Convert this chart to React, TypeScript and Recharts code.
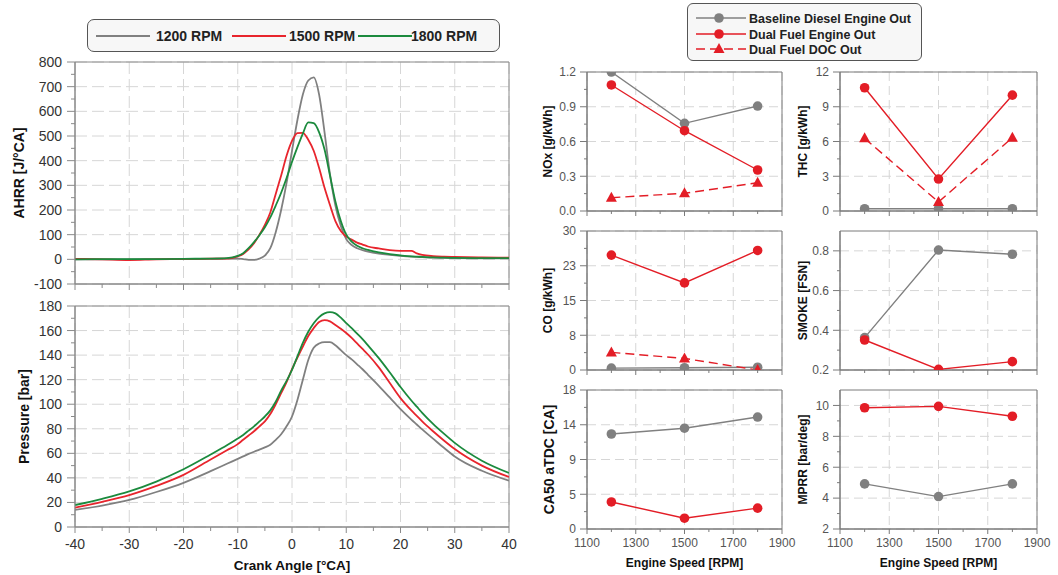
import React from "react";
import { LineChart, Line, XAxis, YAxis, CartesianGrid, ReferenceArea, Label } from "recharts";

const FONT = '"Liberation Sans", Arial, Helvetica, sans-serif';

// ---- combustion traces ----
const crankAngle = [-40, -35, -30, -25, -20, -15, -12, -10, -9, -8, -7, -6, -5, -4, -3, -2, -1, 0, 1, 2, 3, 4, 5, 6, 7, 8, 9, 10, 11, 12, 13, 14, 16, 18, 20, 22, 23, 24, 26, 28, 30, 35, 40];
const ahrr1200 = [0, 0, 0, 1, 1, 2, 3, 3, 1, -2, -2, 3, 15, 45, 110, 200, 310, 440, 565, 668, 725, 738, 668, 515, 345, 218, 135, 82, 58, 45, 37, 31, 23, 18, 14, 11, 10, 9, 7, 6, 5, 4, 4];
const ahrr1500 = [2, 0, -3, 0, 1, 3, 3, 12, 22, 40, 65, 100, 140, 190, 265, 340, 420, 480, 512, 513, 485, 440, 370, 290, 220, 155, 115, 92, 80, 68, 60, 52, 44, 37, 34, 34, 24, 18, 13, 11, 10, 8, 7];
const ahrr1800 = [0, 1, 1, 1, 2, 3, 5, 14, 25, 45, 70, 98, 130, 170, 218, 270, 330, 395, 455, 510, 555, 552, 515, 445, 340, 235, 155, 100, 72, 55, 45, 38, 28, 21, 16, 12, 11, 10, 8, 7, 6, 5, 5];
const pres1200 = [14, 17.5, 22, 28.5, 36, 45.5, 51.5, 55.5, 57.5, 59.5, 61.3, 63, 64.8, 67, 71, 75.5, 82, 90, 103.5, 120, 136, 146, 149.5, 150.5, 150.5, 148, 144, 140, 136.5, 132.5, 128.5, 124, 115, 105.5, 96, 87.5, 83.5, 79.5, 72, 64.5, 57.5, 45.8, 37.7];
const pres1500 = [15.7, 20.5, 26, 33.5, 42.5, 55, 62.5, 67.5, 71, 74.5, 78, 82, 86, 92, 100, 109, 118, 128.5, 138, 147, 155.5, 162, 167, 168.5, 167.5, 164.5, 161.5, 158, 154, 149.5, 145, 140.5, 130, 117.5, 105, 95, 90.5, 86, 78, 70.5, 63.5, 50, 40.7];
const pres1800 = [17.9, 23, 29, 37, 47, 59, 66.5, 72, 75, 78.5, 82, 86, 90, 95, 102, 111, 119, 128, 139, 150, 159, 166, 171, 174, 175, 174, 170.5, 166, 162, 157.5, 153, 148, 137.5, 126, 114, 103, 98, 93, 84, 76, 68.5, 54, 44];

const rpmNames = ["1200 RPM", "1500 RPM", "1800 RPM"];
const rpmColors = ["#808080", "#e8252d", "#1b8a3d"];

// ---- emissions / combustion metrics vs engine speed ----
const engineSpeed = [1200, 1500, 1800];
const noxBase = [1.2, 0.757, 0.906];
const noxDual = [1.088, 0.693, 0.354];
const noxDoc = [0.115, 0.153, 0.244];
const thcBase = [0.2, 0.2, 0.2];
const thcDual = [10.64, 2.76, 10.0];
const thcDoc = [6.27, 0.78, 6.33];
const coBase = [0.4, 0.5, 0.6];
const coDual = [24.8, 18.8, 25.8];
const coDoc = [3.8, 2.5, 0];
const smokeBase = [0.363, 0.804, 0.783];
const smokeDual = [0.351, 0.203, 0.242];
const ca50Base = [12.3, 13.05, 14.5];
const ca50Dual = [3.5, 1.4, 2.7];
const mprrBase = [4.92, 4.1, 4.92];
const mprrDual = [9.85, 9.94, 9.3];

const caseNames = ["Baseline Diesel Engine Out", "Dual Fuel Engine Out", "Dual Fuel DOC Out"];
const GRAY = "#808080";
const RED = "#e31d26";

const ahrrData = crankAngle.map((ca, i) => ({ ca, a: ahrr1200[i], b: ahrr1500[i], c: ahrr1800[i] }));
const presData = crankAngle.map((ca, i) => ({ ca, a: pres1200[i], b: pres1500[i], c: pres1800[i] }));

const speedTable = (base: number[], dual: number[], doc?: number[]) =>
  engineSpeed.map((rpm, i) => ({ rpm, base: base[i], dual: dual[i], doc: doc ? doc[i] : undefined }));

const steps = (from: number, to: number, step: number) => {
  const out: number[] = [];
  for (let v = from; v <= to + 1e-9; v += step) out.push(Math.round(v * 1000) / 1000);
  return out;
};

const PAD = 10;
const RPAD = 30;
const AXW = 70;
const AXH = 50;

const BIG = { frame: "#8a8a8a", grid: "#d6d6d6", dash: "12 5", tickColor: "#333", tickSize: 14, majorTick: 8, minorTick: 4, xMajorTick: 6, xMinorTick: 4, yLabelGap: 13, titleSize: 14 };
const SMALL = { frame: "#7a7a7a", grid: "#d6d6d6", dash: "9 5", tickColor: "#555", tickSize: 12, majorTick: 7, minorTick: 3, xMajorTick: 5, xMinorTick: 3, yLabelGap: 11, titleSize: 12 };

type Serie = { key: string; color: string; width: number; dash?: string; marker?: "circle" | "triangle" };

type PanelProps = {
  left: number;
  top: number;
  w: number;
  h: number;
  data: Record<string, number | undefined>[];
  xKey: string;
  xDomain: [number, number];
  xMajor: number[];
  xMinor: number[];
  yDomain: [number, number];
  yMajor: number[];
  yMinor: number[];
  yFmt: (v: number) => string;
  yTitle: string;
  yTitleGap: number;
  yTitleSize?: number;
  xTitle?: string;
  xLabels: boolean;
  xLabelGap: number;
  xTitleGap: number;
  series: Serie[];
  small?: boolean;
};

const near = (arr: number[], v: number) => arr.some((m) => Math.abs(m - v) < 1e-6);

const triangleDot = (color: string) => (d: any) => {
  if (d.cx == null || d.cy == null) return <g key={d.index} />;
  return (
    <polygon
      key={d.index}
      points={`${d.cx},${d.cy - 6} ${d.cx - 5.5},${d.cy + 4} ${d.cx + 5.5},${d.cy + 4}`}
      fill={color}
    />
  );
};

function Panel(p: PanelProps) {
  const st = p.small ? SMALL : BIG;
  const yTicks = [...p.yMajor, ...p.yMinor].sort((a, b) => a - b);
  const xTicks = [...p.xMajor, ...p.xMinor].sort((a, b) => a - b);

  const renderYTick = (t: any) => {
    const v = t.payload.value;
    const major = near(p.yMajor, v);
    return (
      <g>
        <line x1={t.x - (major ? st.majorTick : st.minorTick)} x2={t.x} y1={t.y} y2={t.y} stroke={st.frame} />
        {major && (
          <text x={t.x - st.yLabelGap} y={t.y} dy="0.36em" textAnchor="end" fontSize={st.tickSize} fill={st.tickColor} fontFamily={FONT}>
            {p.yFmt(v)}
          </text>
        )}
      </g>
    );
  };

  const renderXTick = (t: any) => {
    const v = t.payload.value;
    const major = near(p.xMajor, v);
    return (
      <g>
        <line x1={t.x} x2={t.x} y1={t.y} y2={t.y + (major ? st.xMajorTick : st.xMinorTick)} stroke={st.frame} />
        {major && p.xLabels && (
          <text x={t.x} y={t.y + p.xLabelGap} dy="0.36em" textAnchor="middle" fontSize={st.tickSize} fill={st.tickColor} fontFamily={FONT}>
            {v}
          </text>
        )}
      </g>
    );
  };

  const yTitleLabel = () => (
    <text
      x={AXW - p.yTitleGap}
      y={PAD + p.h / 2}
      transform={`rotate(-90 ${AXW - p.yTitleGap} ${PAD + p.h / 2})`}
      textAnchor="middle"
      dy="0.36em"
      fontSize={p.yTitleSize ?? st.titleSize}
      fontWeight="bold"
      fill="#111"
      fontFamily={FONT}
    >
      {p.yTitle}
    </text>
  );

  const xTitleLabel = () => (
    <text
      x={AXW + p.w / 2}
      y={PAD + p.h + p.xTitleGap}
      textAnchor="middle"
      dy="0.36em"
      fontSize={p.small ? 12 : 13.5}
      fontWeight="bold"
      fill="#111"
      fontFamily={FONT}
    >
      {p.xTitle}
    </text>
  );

  return (
    <div style={{ position: "absolute", left: p.left - AXW, top: p.top - PAD }}>
      <LineChart width={AXW + p.w + RPAD} height={PAD + p.h + AXH} data={p.data} margin={{ top: PAD, right: RPAD, left: 0, bottom: 0 }}>
        <CartesianGrid stroke={st.grid} strokeDasharray={st.dash} horizontalValues={p.yMajor} verticalValues={p.xMajor} />
        <XAxis
          dataKey={p.xKey}
          type="number"
          domain={p.xDomain}
          ticks={xTicks}
          interval={0}
          height={AXH}
          tickSize={0}
          tickMargin={0}
          tickLine={false}
          axisLine={{ stroke: st.frame }}
          tick={renderXTick}
          allowDataOverflow
        >
          {p.xTitle && <Label value={p.xTitle} content={xTitleLabel} />}
        </XAxis>
        <YAxis
          type="number"
          domain={p.yDomain}
          ticks={yTicks}
          interval={0}
          width={AXW}
          tickSize={0}
          tickMargin={0}
          tickLine={false}
          axisLine={{ stroke: st.frame }}
          tick={renderYTick}
          allowDataOverflow
        >
          <Label value={p.yTitle} content={yTitleLabel} />
        </YAxis>
        {p.series.map((s) => (
          <Line
            key={s.key}
            dataKey={s.key}
            type={p.small ? "linear" : "monotone"}
            stroke={s.color}
            strokeWidth={s.width}
            strokeDasharray={s.dash}
            dot={s.marker === "circle" ? { r: 4.8, fill: s.color, stroke: s.color, strokeWidth: 0 } : s.marker === "triangle" ? triangleDot(s.color) : false}
            activeDot={false}
            isAnimationActive={false}
            connectNulls
          />
        ))}
        <ReferenceArea
          x1={p.xDomain[0]}
          x2={p.xDomain[1]}
          y1={p.yDomain[0]}
          y2={p.yDomain[1]}
          fill="none"
          fillOpacity={0}
          stroke={st.frame}
          ifOverflow="visible"
        />
      </LineChart>
    </div>
  );
}

function RpmLegend() {
  const lineX = [8, 144, 270];
  const textX = [68, 201, 323];
  return (
    <div style={{ position: "absolute", left: 87, top: 19, width: 411, height: 31, border: "1px solid #555", borderRadius: 7, background: "#f7f7f7" }}>
      <svg width={411} height={31}>
        {rpmNames.map((name, i) => (
          <g key={name}>
            <line x1={lineX[i]} x2={lineX[i] + 54} y1={16} y2={16} stroke={rpmColors[i]} strokeWidth={2} />
            <text x={textX[i]} y={16} dy="0.36em" fontSize={14} fontWeight="bold" fill="#222" fontFamily={FONT}>
              {name}
            </text>
          </g>
        ))}
      </svg>
    </div>
  );
}

function CaseLegend() {
  const rowY = [14, 30, 45];
  return (
    <div style={{ position: "absolute", left: 687, top: 3, width: 233, height: 56, border: "1px solid #555", borderRadius: 6, background: "#f7f7f7" }}>
      <svg width={233} height={56}>
        {caseNames.map((name, i) => {
          const color = i === 0 ? GRAY : RED;
          const y = rowY[i];
          return (
            <g key={name}>
              <line x1={8} x2={58} y1={y} y2={y} stroke={color} strokeWidth={1.5} strokeDasharray={i === 2 ? "9 5" : undefined} />
              {i < 2 ? (
                <circle cx={31} cy={y} r={4.8} fill={color} />
              ) : (
                <polygon points={`31,${y - 6} 25.5,${y + 4} 36.5,${y + 4}`} fill={color} />
              )}
              <text x={61} y={y} dy="0.36em" fontSize={12.5} fontWeight="bold" fill="#222" fontFamily={FONT}>
                {name}
              </text>
            </g>
          );
        })}
      </svg>
    </div>
  );
}

const rpmSeries: Serie[] = [
  { key: "a", color: rpmColors[0], width: 1.8 },
  { key: "b", color: rpmColors[1], width: 1.8 },
  { key: "c", color: rpmColors[2], width: 1.8 },
];

const caseSeries = (withDoc: boolean): Serie[] => {
  const s: Serie[] = [
    { key: "base", color: GRAY, width: 1.4, marker: "circle" },
    { key: "dual", color: RED, width: 1.4, marker: "circle" },
  ];
  if (withDoc) s.push({ key: "doc", color: RED, width: 1.4, dash: "9 5", marker: "triangle" });
  return s;
};

const caMajor = steps(-40, 40, 10);
const caMinor = steps(-35, 35, 10);
const rpmMajor = [1100, 1300, 1500, 1700, 1900];
const rpmMinor = [1200, 1400, 1600, 1800];

const midpoints = (arr: number[]) => arr.slice(1).map((v, i) => Math.round(((v + arr[i]) / 2) * 1000) / 1000);

export default function App() {
  const colL = 587;
  const colR = 840;
  const rows = [72, 231, 390];
  const ph = 139;

  const small = (
    left: number,
    top: number,
    w: number,
    data: Record<string, number | undefined>[],
    withDoc: boolean,
    yDomain: [number, number],
    yMajor: number[],
    yFmt: (v: number) => string,
    yTitle: string,
    yTitleGap: number,
    bottom: boolean,
    yTitleSize?: number
  ) => (
    <Panel
      left={left}
      top={top}
      w={w}
      h={ph}
      data={data}
      xKey="rpm"
      xDomain={[1100, 1900]}
      xMajor={rpmMajor}
      xMinor={rpmMinor}
      yDomain={yDomain}
      yMajor={yMajor}
      yMinor={midpoints(yMajor)}
      yFmt={yFmt}
      yTitle={yTitle}
      yTitleGap={yTitleGap}
      yTitleSize={yTitleSize}
      xTitle={bottom ? "Engine Speed [RPM]" : undefined}
      xLabels={bottom}
      xLabelGap={14}
      xTitleGap={34}
      series={caseSeries(withDoc)}
      small
    />
  );

  return (
    <div style={{ position: "fixed", left: 0, top: 0, width: 1058, height: 575, background: "#fff", overflow: "hidden", fontFamily: FONT }}>
      <RpmLegend />
      <CaseLegend />

      <Panel
        left={75}
        top={62}
        w={434}
        h={222}
        data={ahrrData}
        xKey="ca"
        xDomain={[-40, 40]}
        xMajor={caMajor}
        xMinor={caMinor}
        yDomain={[-100, 800]}
        yMajor={steps(-100, 800, 100)}
        yMinor={steps(-50, 750, 100)}
        yFmt={(v) => String(v)}
        yTitle="AHRR [J/°CA]"
        yTitleGap={56}
        xLabels={false}
        xLabelGap={16}
        xTitleGap={38}
        series={rpmSeries}
      />
      <Panel
        left={75}
        top={306}
        w={434}
        h={221}
        data={presData}
        xKey="ca"
        xDomain={[-40, 40]}
        xMajor={caMajor}
        xMinor={caMinor}
        yDomain={[0, 180]}
        yMajor={steps(0, 180, 20)}
        yMinor={steps(10, 170, 20)}
        yFmt={(v) => String(v)}
        yTitle="Pressure [bar]"
        yTitleGap={51}
        xTitle="Crank Angle [°CA]"
        xLabels
        xLabelGap={17}
        xTitleGap={38}
        series={rpmSeries}
      />

      {small(colL, rows[0], 195, speedTable(noxBase, noxDual, noxDoc), true, [0, 1.2], [0, 0.3, 0.6, 0.9, 1.2], (v) => v.toFixed(1), "NOx [g/kWh]", 39, false)}
      {small(colR, rows[0], 197, speedTable(thcBase, thcDual, thcDoc), true, [0, 12], [0, 3, 6, 9, 12], (v) => String(v), "THC [g/kWh]", 37, false)}
      {small(colL, rows[1], 195, speedTable(coBase, coDual, coDoc), true, [0, 30], [0, 7.5, 15, 22.5, 30], (v) => String(Math.round(v)), "CO [g/kWh]", 39, false)}
      {small(colR, rows[1], 197, speedTable(smokeBase, smokeDual), false, [0.2, 0.9], [0.2, 0.4, 0.6, 0.8], (v) => v.toFixed(1), "SMOKE [FSN]", 37.5, false)}
      {small(colL, rows[2], 195, speedTable(ca50Base, ca50Dual), false, [0, 18], [0, 4.5, 9, 13.5, 18], (v) => String(Math.round(v)), "CA50 aTDC [CA]", 38, true, 14)}
      {small(colR, rows[2], 197, speedTable(mprrBase, mprrDual), false, [2, 11], [2, 4, 6, 8, 10], (v) => String(v), "MPRR [bar/deg]", 37, true)}
    </div>
  );
}
